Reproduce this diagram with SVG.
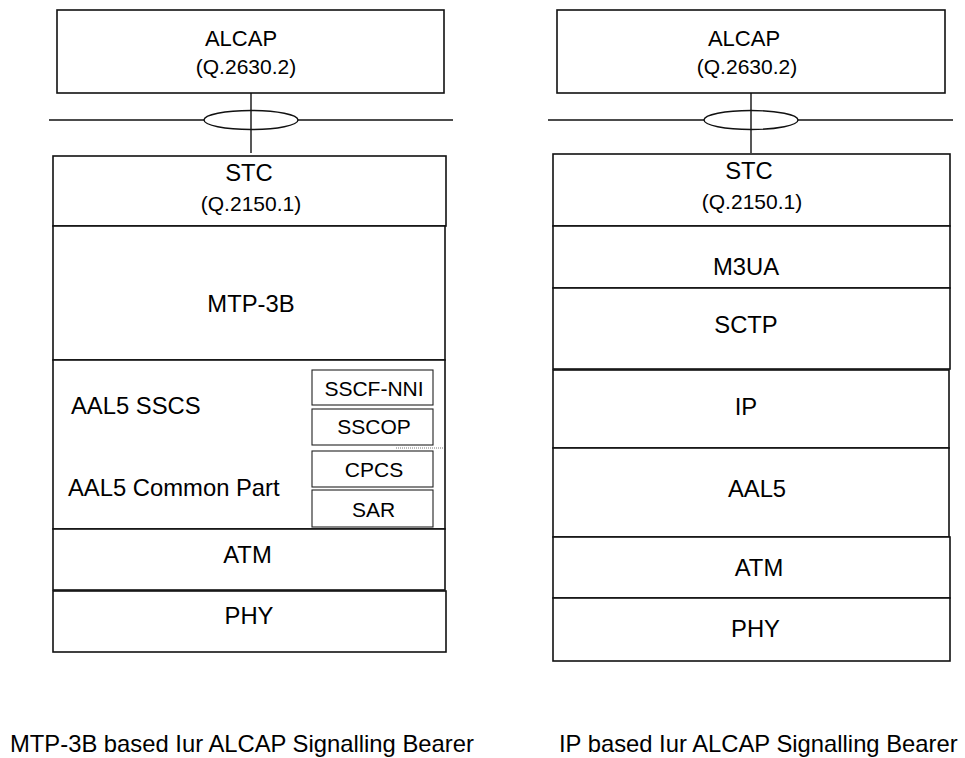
<svg xmlns="http://www.w3.org/2000/svg" width="965" height="758" viewBox="0 0 965 758">
<style>
.box{fill:#fff;stroke:#111;stroke-width:1.6}
.sub{fill:#fff;stroke:#222;stroke-width:1.1}
.ln{stroke:#111;stroke-width:1.4;fill:none}
.ell{fill:#fff;stroke:#111;stroke-width:1.4}
text{font-family:"Liberation Sans",Arial,Helvetica,sans-serif;fill:#000}
.c{text-anchor:middle}
.L{font-size:23.8px}
.M{font-size:22px}
.S{font-size:21px}
</style>
<rect width="965" height="758" fill="#fff"/>
<g id="connectors">
<line class="ln" x1="49" y1="120" x2="453" y2="120"/>
<ellipse class="ell" cx="251" cy="120" rx="47" ry="9.5"/>
<line class="ln" x1="251" y1="93" x2="251" y2="153"/>
<line class="ln" x1="548" y1="120" x2="953" y2="120"/>
<ellipse class="ell" cx="751" cy="120" rx="47" ry="9.5"/>
<line class="ln" x1="751" y1="89" x2="751" y2="153"/>
</g>
<g id="left-alcap"><rect class="box" x="57" y="10" width="387" height="83"/><text class="c M" x="241" y="45.5">ALCAP</text><text class="c S" x="246" y="74">(Q.2630.2)</text></g>
<g id="left-stc"><rect class="box" x="53" y="156" width="393" height="70"/><text class="c L" x="249" y="181">STC</text><text class="c S" x="251" y="211">(Q.2150.1)</text></g>
<g id="left-mtp3b"><rect class="box" x="53" y="226" width="392" height="134"/><text class="c L" x="251" y="312">MTP-3B</text></g>
<g id="left-aal5"><rect class="box" x="53" y="360" width="392" height="169"/><text class="L" x="71" y="414">AAL5 SSCS</text><text class="L" x="68" y="496">AAL5 Common Part</text>
<line x1="396" y1="448" x2="444" y2="448" stroke="#777" stroke-width="1" stroke-dasharray="1 1"/></g>
<g id="left-sscf"><rect class="sub" x="312" y="370" width="121" height="35"/><text class="c S" x="374" y="395.5">SSCF-NNI</text></g>
<g id="left-sscop"><rect class="sub" x="312" y="409" width="121" height="36"/><text class="c S" x="374" y="434">SSCOP</text></g>
<g id="left-cpcs"><rect class="sub" x="312" y="451" width="121" height="36"/><text class="c S" x="374" y="476.5">CPCS</text></g>
<g id="left-sar"><rect class="sub" x="312" y="490" width="121" height="37"/><text class="c S" x="373.5" y="517">SAR</text></g>
<g id="left-atm"><rect class="box" x="53" y="529" width="392" height="61"/><text class="c L" x="247.5" y="563">ATM</text></g>
<g id="left-phy"><rect class="box" x="53" y="591" width="393" height="61"/><text class="c L" x="249" y="624">PHY</text></g>
<g id="right-alcap"><rect class="box" x="557" y="10" width="388" height="83"/><text class="c M" x="744" y="45.5">ALCAP</text><text class="c S" x="747" y="74">(Q.2630.2)</text></g>
<g id="right-stc"><rect class="box" x="553" y="154" width="397" height="72"/><text class="c L" x="749" y="178.5">STC</text><text class="c S" x="752" y="209">(Q.2150.1)</text></g>
<g id="right-m3ua"><rect class="box" x="553" y="226" width="397" height="62"/><text class="c L" x="746" y="275">M3UA</text></g>
<g id="right-sctp"><rect class="box" x="553" y="288" width="397" height="81"/><text class="c L" x="746" y="332.5">SCTP</text></g>
<g id="right-ip"><rect class="box" x="553" y="370" width="396" height="78"/><text class="c L" x="746" y="414.5">IP</text></g>
<g id="right-aal5"><rect class="box" x="553" y="448" width="396" height="89"/><text class="c L" x="757" y="496.5">AAL5</text></g>
<g id="right-atm"><rect class="box" x="553" y="537" width="397" height="61"/><text class="c L" x="759" y="576">ATM</text></g>
<g id="right-phy"><rect class="box" x="553" y="598" width="397" height="63"/><text class="c L" x="755.5" y="636.5">PHY</text></g>
<g id="captions">
<text style="font-size:23.8px" x="10" y="752">MTP-3B based Iur ALCAP Signalling Bearer</text>
<text style="font-size:23.8px" x="559" y="752">IP based Iur ALCAP Signalling Bearer</text>
</g>
</svg>
